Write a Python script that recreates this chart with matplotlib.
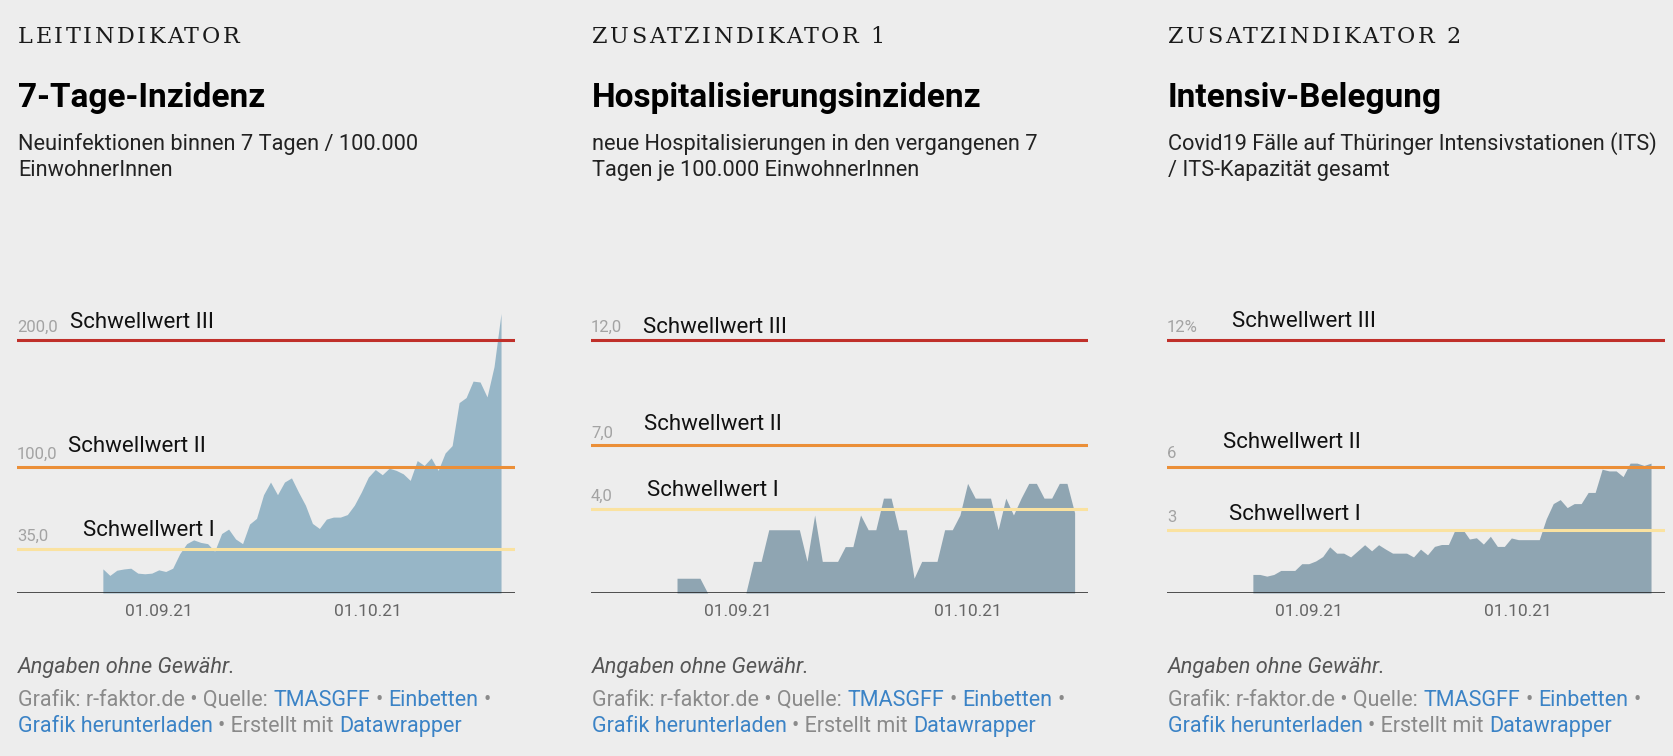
import numpy as np
import pandas as pd
import matplotlib
matplotlib.use("Agg")
import matplotlib.pyplot as plt
import matplotlib.dates as mdates

plt.rcParams['font.family'] = ['Roboto', 'DejaVu Sans']

# ---- data ----
kickers = ["LEITINDIKATOR", "ZUSATZINDIKATOR 1", "ZUSATZINDIKATOR 2"]
titles = ["7-Tage-Inzidenz", "Hospitalisierungsinzidenz", "Intensiv-Belegung"]
subtitles = [
    ["Neuinfektionen binnen 7 Tagen / 100.000", "EinwohnerInnen"],
    ["neue Hospitalisierungen in den vergangenen 7", "Tagen je 100.000 EinwohnerInnen"],
    ["Covid19 Fälle auf Thüringer Intensivstationen (ITS)", "/ ITS-Kapazität gesamt"],
]

start_dates = ["2021-08-24", "2021-08-24", "2021-08-24"]

inzidenz = [19.1, 13.9, 18.0, 19.0, 19.6, 15.7, 15.2, 15.7, 18.3, 17.0,
            19.6, 31.0, 39.0, 42.0, 40.0, 39.0, 33.0, 47.0, 50.5, 42.7,
            39.0, 54.5, 59.0, 77.7, 87.7, 77.7, 87.7, 91.0, 79.8, 69.4,
            55.0, 51.0, 58.4, 60.0, 60.0, 62.0, 69.4, 79.8, 91.6, 97.6,
            93.5, 98.7, 96.9, 94.2, 89.0, 104.7, 100.8, 106.8, 96.9, 110.7,
            116.5, 150.5, 154.5, 167.5, 166.8, 155.0, 179.0, 221.0]

hospital = [0.7, 0.7, 0.7, 0.7, 0, 0, 0, 0, 0, 0,
            1.5, 1.5, 3.0, 3.0, 3.0, 3.0, 3.0, 1.5, 3.7, 1.5,
            1.5, 1.5, 2.2, 2.2, 3.7, 3.0, 3.0, 4.5, 4.5, 3.0,
            3.0, 0.7, 1.5, 1.5, 1.5, 3.0, 3.0, 3.7,
            5.2, 4.5, 4.5, 4.5, 3.0, 4.5, 3.7, 4.5, 5.2, 5.2,
            4.5, 4.5, 5.2, 5.2, 3.8]

intensiv = [0.88, 0.88, 0.80, 0.88, 1.07, 1.07, 1.07, 1.39, 1.39, 1.52,
            1.73, 2.19, 1.89, 1.89, 1.71, 2.00, 2.29, 2.00, 2.29, 2.08,
            1.89, 1.89, 1.89, 1.71, 2.08, 1.81, 2.21, 2.30, 2.30, 3.04,
            3.04, 2.56, 2.62, 2.32, 2.69, 2.21, 2.21, 2.61, 2.53, 2.53,
            2.53, 2.53, 3.52, 4.24, 4.43, 4.05, 4.24, 4.24, 4.77, 4.77,
            5.87, 5.79, 5.79, 5.52, 6.16, 6.16, 6.05, 6.16]

series = [inzidenz, hospital, intensiv]

thresholds = [[35, 100, 200], [4, 7, 12], [3, 6, 12]]
threshold_labels = [["35,0", "100,0", "200,0"], ["4,0", "7,0", "12,0"], ["3", "6", "12%"]]
threshold_names = ["Schwellwert I", "Schwellwert II", "Schwellwert III"]

tick_dates = ["2021-09-01", "2021-10-01"]

# ---- layout / style ----
W, H = 1673, 756
BG = "#ededed"
line_colors = ["#fae2a0", "#eb8f38", "#c0302a"]
area_colors = ["#97b6c7", "#8fa5b2", "#8fa5b2"]
text_left = [18, 592, 1168]
ax_x = [(17, 515), (591, 1088), (1167, 1665)]
ax_top, ax_bottom, y_top_line = 300, 593, 340
xlims = [("2021-08-11 17:00", "2021-10-22 00:00"),
         ("2021-08-12 18:00", "2021-10-16 18:00"),
         ("2021-08-11 17:00", "2021-10-22 00:00")]
# label offsets in pixels (dx from axes left, dy above line)
name_dx = [[66, 51, 53], [56, 53, 52], [62, 56, 65]]
name_dy = [[13, 15, 12], [13, 15, 7], [10, 19, 13]]

GREY = "#8a8a8a"
BLUE = "#3b83c6"


def fx(px):
    return px / W


def fy(py):
    return 1 - py / H


fig = plt.figure(figsize=(W / 100, H / 100), dpi=100, facecolor=BG)
renderer = fig.canvas.get_renderer()


def text_width(s, **kw):
    t = fig.text(0, 0, s, **kw)
    w = t.get_window_extent(renderer).width
    t.remove()
    return w


def draw_runs(x_px, y_px, runs, size):
    space = text_width("a a", fontsize=size) - text_width("aa", fontsize=size)
    x = x_px
    for txt, col in runs:
        lead = len(txt) - len(txt.lstrip(" "))
        trail = len(txt) - len(txt.rstrip(" "))
        x += lead * space
        t = fig.text(fx(x), fy(y_px), txt.strip(), color=col, fontsize=size, va="baseline")
        x += t.get_window_extent(renderer).width + trail * space


def draw_tracked(x_px, y_px, txt, tracking, **kw):
    # slab-serif kicker with letter spacing, one glyph at a time
    for k, ch in enumerate(txt):
        if ch == " ":
            continue
        off = text_width(txt[:k + 1], **kw) - text_width(ch, **kw)
        fig.text(fx(x_px + off + k * tracking), fy(y_px), ch, va="baseline", **kw)


for i in range(3):
    left = text_left[i]
    draw_tracked(left, 43, kickers[i], 2.6, family="DejaVu Serif", fontsize=16, color="#1a1a1a")
    fig.text(fx(left), fy(107), titles[i], fontsize=24, fontweight="bold",
             color="#000000", va="baseline")
    fig.text(fx(left), fy(150), subtitles[i][0], fontsize=15.7, color="#222222", va="baseline")
    fig.text(fx(left), fy(176), subtitles[i][1], fontsize=15.7, color="#222222", va="baseline")

    x0, x1 = ax_x[i]
    ax = fig.add_axes([fx(x0), fy(ax_bottom), (x1 - x0) / W, (ax_bottom - ax_top) / H])
    ax.set_facecolor("none")
    top_thr = thresholds[i][-1]
    ax.set_ylim(0, top_thr * (ax_bottom - ax_top) / (ax_bottom - y_top_line))
    ax.set_xlim(pd.Timestamp(xlims[i][0]), pd.Timestamp(xlims[i][1]))

    dates = pd.date_range(start_dates[i], periods=len(series[i]), freq="D")
    ax.fill_between(dates, series[i], 0, color=area_colors[i], lw=0, zorder=1)

    for j, thr in enumerate(thresholds[i]):
        ax.axhline(thr, color=line_colors[j], lw=2.2, zorder=2)
        ax.annotate(threshold_labels[i][j], xy=(0, thr), xycoords=("axes fraction", "data"),
                    xytext=(0, 8), textcoords="offset pixels", va="baseline", ha="left",
                    fontsize=12, color="#a3a3a3", annotation_clip=False)
        ax.annotate(threshold_names[j], xy=(0, thr), xycoords=("axes fraction", "data"),
                    xytext=(name_dx[i][j], name_dy[i][j]), textcoords="offset pixels",
                    va="baseline", ha="left", fontsize=16, color="#111111",
                    annotation_clip=False)

    ax.axhline(0, color="#1e1e1e", lw=1.8, zorder=3)
    for s in ax.spines.values():
        s.set_visible(False)
    ax.set_yticks([])
    ax.set_xticks([pd.Timestamp(d) for d in tick_dates])
    ax.xaxis.set_major_formatter(mdates.DateFormatter("%d.%m.%y"))
    ax.tick_params(axis="x", length=0, pad=8, labelsize=12.5, labelcolor="#666666")

    fig.text(fx(left), fy(673), "Angaben ohne Gewähr.", fontsize=15.7, style="italic",
             color="#555555", va="baseline")
    draw_runs(left, 706, [("Grafik: r-faktor.de • Quelle: ", GREY), ("TMASGFF", BLUE),
                          (" • ", GREY), ("Einbetten", BLUE), (" •", GREY)], 15.5)
    draw_runs(left, 732, [("Grafik herunterladen", BLUE), (" • Erstellt mit ", GREY),
                          ("Datawrapper", BLUE)], 15.5)

fig.savefig("out.png", dpi=100, facecolor=BG)
